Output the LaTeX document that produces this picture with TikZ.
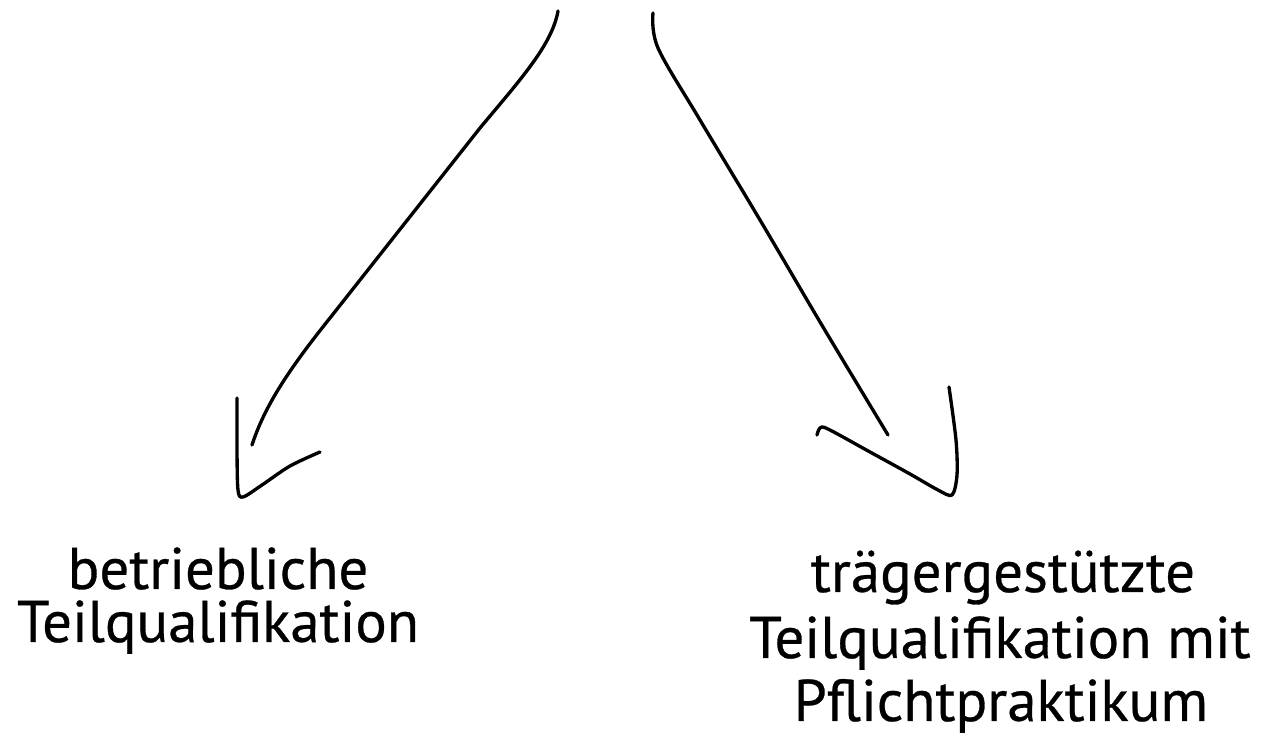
\documentclass[tikz,border=0pt]{standalone}
\usepackage{fontspec}
\setmainfont{PT Sans}
\newfontfamily\lblfont{PT Sans}[FakeBold=0.5]
\begin{document}
\begin{tikzpicture}[x=0.02cm,y=-0.02cm,
  stroke/.style={line width=1.9pt,line cap=round,line join=round,black},
  lbl/.style={anchor=base,inner sep=0pt,font=\lblfont\fontsize{33.5}{38}\selectfont}]
\useasboundingbox (0,0) rectangle (1262,739);
% labels
\node[lbl] (l1) at (218,589) {betriebliche};
\node[lbl] (l2) at (218,642) {Teilqualifikation};
\node[lbl] (r1) at (1003,592) {trägergestützte};
\node[lbl] (r2) at (1000,658) {Teilqualifikation mit};
\node[lbl] (r3) at (1001,721) {Pflichtpraktikum};
% left arrow
\coordinate (ls) at (558,11);
\coordinate (le) at (252,445);
\draw[stroke] (ls) .. controls (552,45) and (520,80) .. (480,128)
  -- (330,318) .. controls (290,368) and (265,405) .. (le);
\draw[stroke] plot[smooth,tension=0.5] coordinates {(237,398) (237,450) (238,490) (243,497) (262,485) (290,466) (320,452)};
% right arrow
\coordinate (rs) at (653,13);
\coordinate (re) at (888,435);
\draw[stroke] plot[smooth,tension=0.55] coordinates {(rs) (658,48) (700,120) (760,220) (823,327) (re)};
\draw[stroke] plot[smooth,tension=0.5] coordinates {(817,435) (820,428) (828,429) (870,452) (910,474) (938,490) (952,495) (957,475) (956,440) (949,387)};
\end{tikzpicture}
\end{document}
